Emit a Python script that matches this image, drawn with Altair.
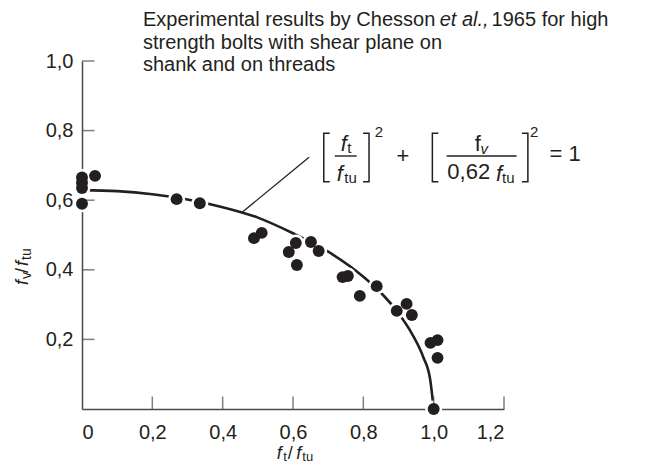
import altair as alt
import pandas as pd

# ---- data ----
pt_x = [0.0, 0.0, 0.0, 0.0, 0.037, 0.269, 0.335, 0.489, 0.511, 0.588, 0.608,
        0.611, 0.651, 0.673, 0.741, 0.756, 0.790, 0.838, 0.895, 0.923, 0.938,
        0.991, 1.011, 1.011, 1.0]
pt_y = [0.665, 0.650, 0.635, 0.590, 0.670, 0.603, 0.591, 0.491, 0.506, 0.451,
        0.477, 0.414, 0.480, 0.454, 0.379, 0.382, 0.325, 0.353, 0.282, 0.302,
        0.270, 0.190, 0.198, 0.147, 0.0]

curve_x = [0.0, 0.1, 0.2, 0.3, 0.4, 0.5, 0.6, 0.7, 0.8, 0.85, 0.9, 0.94, 0.97, 0.99, 1.0]
curve_y = [0.629, 0.626, 0.617, 0.602, 0.580, 0.550, 0.505, 0.452, 0.380, 0.334,
           0.275, 0.213, 0.150, 0.085, 0.0]

x_ticks = [0.0, 0.2, 0.4, 0.6, 0.8, 1.0, 1.2]
y_ticks = [0.2, 0.4, 0.6, 0.8, 1.0]

note_lines = ["Experimental results by Chesson", "et al.,", "1965 for high",
              "strength bolts with shear plane on", "shank and on threads"]

FONT = "Liberation Sans"
INK = "#231f20"
AXC = "#4a4a4a"

pts = pd.DataFrame({"x": pt_x, "y": pt_y})
crv = pd.DataFrame({"x": curve_x, "y": curve_y})
one = pd.DataFrame({"a": [0]})

XS = alt.Scale(domain=[0, 1.2], nice=False, zero=False)
YS = alt.Scale(domain=[0, 1.0], nice=False, zero=False)

lab_expr = "datum.value == 0 ? '0' : replace(format(datum.value, '.1f'), '.', ',')"

curve = alt.Chart(crv).mark_line(color=INK, strokeWidth=2.6, interpolate="monotone").encode(
    x=alt.X("x:Q", scale=XS, axis=alt.Axis(values=x_ticks, labelExpr=lab_expr, title=None,
                                           ticks=False, labelPadding=13, grid=False)),
    y=alt.Y("y:Q", scale=YS, axis=alt.Axis(values=y_ticks, labelExpr=lab_expr, title=None,
                                           ticks=False, labelPadding=9, grid=False)),
)

halo = alt.Chart(pts).mark_circle(color="white", opacity=1, size=290).encode(
    x=alt.X("x:Q", scale=XS), y=alt.Y("y:Q", scale=YS))
dots = alt.Chart(pts).mark_circle(color=INK, opacity=1, size=142).encode(
    x=alt.X("x:Q", scale=XS), y=alt.Y("y:Q", scale=YS))

xt = alt.Chart(pd.DataFrame({"t": x_ticks[1:]})).mark_tick(
    orient="vertical", size=12.5, thickness=1.5, color=AXC, yOffset=-6.25).encode(
    x=alt.X("t:Q", scale=XS), y=alt.datum(0))
yt = alt.Chart(pd.DataFrame({"t": y_ticks})).mark_tick(
    orient="horizontal", size=12.5, thickness=1.5, color=AXC, xOffset=6.25).encode(
    y=alt.Y("t:Q", scale=YS), x=alt.datum(0))

leader = alt.Chart(one).mark_rule(color=INK, strokeWidth=1.3).encode(
    x=alt.datum(0.4537), y=alt.datum(0.564), x2=alt.datum(0.6457), y2=alt.datum(0.7233))

# brackets of the equation
top, bot, s = 0.7927, 0.6532, 0.017
br_x, br_y, br_id, br_o = [], [], [], []
for i, (bx, side) in enumerate([(0.6875, 1), (0.8162, -1), (0.9963, 1), (1.2679, -1)]):
    for j, (xx, yy) in enumerate([(bx + side * s, top), (bx, top), (bx, bot), (bx + side * s, bot)]):
        br_x.append(xx); br_y.append(yy); br_id.append(i); br_o.append(j)
brk = alt.Chart(pd.DataFrame({"bx": br_x, "by": br_y, "bid": br_id, "bo": br_o})).mark_line(
    color=INK, strokeWidth=1.5).encode(
    x=alt.X("bx:Q", scale=XS), y=alt.Y("by:Q", scale=YS), detail="bid:N", order="bo:O")

bar1 = alt.Chart(one).mark_rule(color=INK, strokeWidth=1.4).encode(
    x=alt.datum(0.7188), x2=alt.datum(0.7813), y=alt.datum(0.727))
bar2 = alt.Chart(one).mark_rule(color=INK, strokeWidth=1.4).encode(
    x=alt.datum(1.0369), x2=alt.datum(1.2358), y=alt.datum(0.727))


def txt(label, x, y, size=22, style="normal", angle=0, dx=0, dy=0):
    return alt.Chart(one).mark_text(
        text=label, align="left", baseline="alphabetic", font=FONT, fontSize=size,
        fontStyle=style, color=INK, angle=angle, dx=dx, dy=dy).encode(
        x=alt.datum(x), y=alt.datum(y))


eq = [
    txt("f", 0.7358, 0.7414, 22, "italic"),
    txt("t", 0.7543, 0.7342, 15),
    txt("f", 0.7244, 0.6552, 22, "italic"),
    txt("tu", 0.7457, 0.6480, 15),
    txt("2", 0.8324, 0.7816, 15),
    txt("+", 0.8940, 0.7083, 22),
    txt("f", 1.1165, 0.7414, 22),
    txt("v", 1.1335, 0.7328, 15, "italic"),
    txt("0,62", 1.0389, 0.6595, 22),
    txt("f", 1.1776, 0.6552, 22, "italic"),
    txt("tu", 1.1946, 0.6480, 15),
    txt("2", 1.2741, 0.7816, 15),
    txt("= 1", 1.3295, 0.7126, 22),
]

note = [
    txt(note_lines[0], 0.1733, 1.0997, 20),
    txt(note_lines[1], 1.0170, 1.0997, 20, "italic"),
    txt(note_lines[2], 1.1648, 1.0997, 20),
    txt(note_lines[3], 0.1733, 1.0353, 20),
    txt(note_lines[4], 0.1733, 0.9710, 20),
]

XT_X, XT_Y = 0.554, -0.1437
xtitle = [
    txt("f", XT_X, XT_Y, 18, "italic"),
    txt("t", XT_X, XT_Y, 13, dx=6.5, dy=2),
    txt("/", XT_X, XT_Y, 18, dx=11),
    txt("f", XT_X, XT_Y, 18, "italic", dx=19.5),
    txt("tu", XT_X, XT_Y, 13, dx=25.5, dy=2),
]
YT_X, YT_Y = -0.1534, 0.3563
ytitle = [
    txt("f", YT_X, YT_Y, 18, "italic", angle=270),
    txt("v", YT_X, YT_Y, 14, angle=270, dx=6, dy=3),
    txt("/", YT_X, YT_Y, 18, angle=270, dx=12),
    txt("f", YT_X, YT_Y, 18, "italic", angle=270, dx=19),
    txt("tu", YT_X, YT_Y, 14, angle=270, dx=25, dy=3),
]

chart = alt.layer(curve, leader, halo, xt, yt, dots, brk, bar1, bar2,
                  *eq, *note, *xtitle, *ytitle).properties(
    width=422, height=348,
    autosize=alt.AutoSizeParams(type="none"),
    padding={"left": 74, "top": 53, "right": 134, "bottom": 55},
    background="white",
).configure_view(strokeWidth=0).configure_axis(
    labelFont=FONT, labelFontSize=20, labelColor=INK,
    domainColor=AXC, domainWidth=1.5, titleOpacity=0,
)

chart.save("out.html", embed_options={"renderer": "svg", "actions": False})
